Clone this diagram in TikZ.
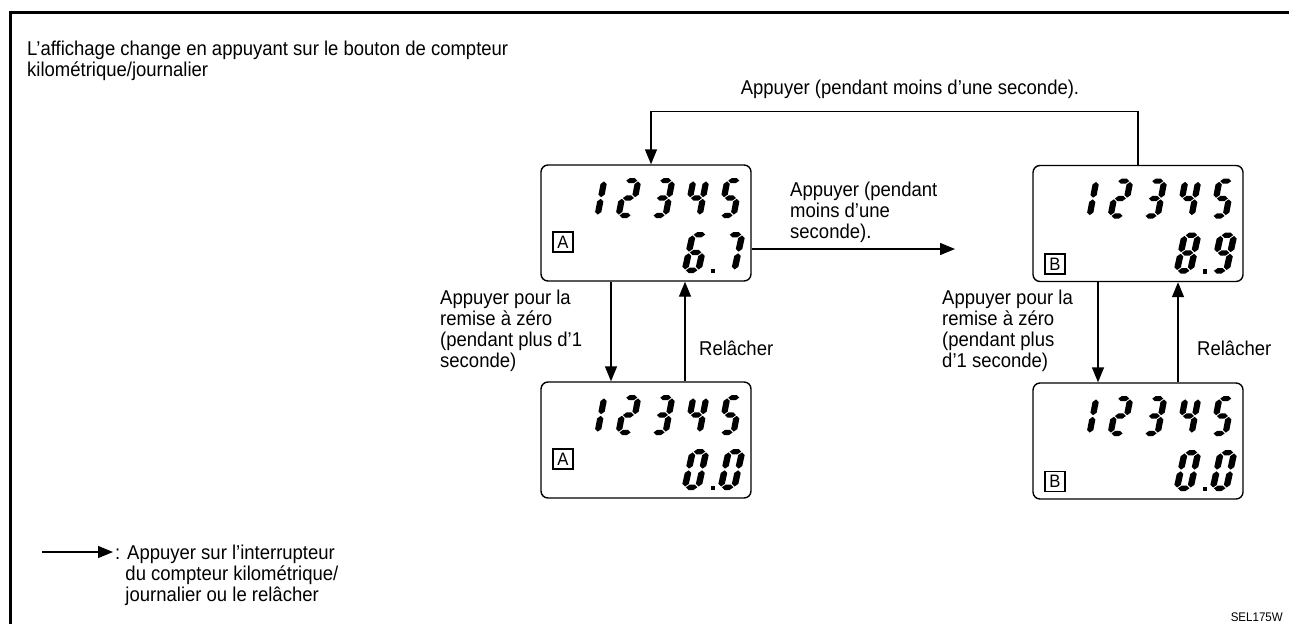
\documentclass[tikz,border=0pt]{standalone}
\usepackage{fontspec}
\setmainfont{Liberation Sans}[FakeStretch=0.925]
\usetikzlibrary{arrows.meta}
% seven-segment polygons, local units: width 16, height 40, y up
\def\sega{\fill (3.4,37.4)--(6,40)--(10,40)--(12.6,37.4)--(10,34.8)--(6,34.8)--cycle;}
\def\segg{\fill (3.4,20)--(6,22.6)--(10,22.6)--(12.6,20)--(10,17.4)--(6,17.4)--cycle;}
\def\segd{\fill (3.4,2.6)--(6,5.2)--(10,5.2)--(12.6,2.6)--(10,0)--(6,0)--cycle;}
\def\segf{\fill (2.6,36.6)--(5.2,34)--(5.2,23.4)--(2.6,20.8)--(0,23.4)--(0,34)--cycle;}
\def\segb{\fill (13.4,36.6)--(16,34)--(16,23.4)--(13.4,20.8)--(10.8,23.4)--(10.8,34)--cycle;}
\def\sege{\fill (2.6,19.2)--(5.2,16.6)--(5.2,6)--(2.6,3.4)--(0,6)--(0,16.6)--cycle;}
\def\segc{\fill (13.4,19.2)--(16,16.6)--(16,6)--(13.4,3.4)--(10.8,6)--(10.8,16.6)--cycle;}
\newcommand\digS[3]{\begin{scope}[shift={(#1,#2)},x=1pt,y=1pt,xscale=1.2,xslant=0.16]
  \foreach \s in {#3}{\csname seg\s\endcsname}\end{scope}}
\newcommand\digL[3]{\begin{scope}[shift={(#1,#2)},x=1pt,y=1pt,xscale=1.25,yscale=1.025,xslant=0.18]
  \foreach \s in {#3}{\csname seg\s\endcsname}\end{scope}}
\newcommand\toprow{\digS{40}{53}{b,c}\digS{74}{53}{a,b,g,e,d}\digS{108}{53}{a,b,g,c,d}%
  \digS{142}{53}{f,g,b,c}\digS{176}{53}{a,f,g,c,d}}
\newcommand\ldot{\fill (169.5,103.5) rectangle (174,108);}
\begin{document}
\begin{tikzpicture}[x=1pt,y=-1pt,
  txt/.style={inner sep=0pt, align=left, font=\fontsize{20}{21}\selectfont},
  lcd/.style={draw, line width=1.4pt, rounded corners=7pt, minimum width=210pt, minimum height=116pt, inner sep=0pt},
  tag/.style={draw, line width=1.2pt, minimum width=20pt, minimum height=20pt, inner sep=0pt, font=\fontsize{18}{18}\selectfont},
  conn/.style={line width=1.4pt, -{Triangle[length=15pt,width=12pt]}}]
\useasboundingbox (0,0) rectangle (1289,624);
\fill[white] (0,0) rectangle (1289,624);
% frame
\draw[line width=3pt] (1289,12.5) -- (10,12.5) -- (10,624);
% title
\node[txt, anchor=north west] (title) at (27,41) {L’affichage change en appuyant sur le bouton de compteur\\kilométrique/journalier};
% displays
\node[lcd] (A1) at (646,223) {};
\begin{scope}[shift={(541,165)}]
  \node[tag] (A1t) at (22,77) {A};
  \toprow \digL{140}{108}{a,f,g,e,c,d} \ldot \digL{176}{108}{a,b,c}
\end{scope}
\node[lcd] (A2) at (646,440) {};
\begin{scope}[shift={(541,382)}]
  \node[tag] (A2t) at (22,77) {A};
  \toprow \digL{140}{108}{a,b,c,d,e,f} \ldot \digL{176}{108}{a,b,c,d,e,f}
\end{scope}
\node[lcd] (B1) at (1138,223.5) {};
\begin{scope}[shift={(1033,165.5)}]
  \node[tag] (B1t) at (22,98.5) {B};
  \toprow \digL{140}{108}{a,b,c,d,e,f,g} \ldot \digL{176}{108}{a,b,c,d,f,g}
\end{scope}
\node[lcd] (B2) at (1138,441) {};
\begin{scope}[shift={(1033,383)}]
  \node[tag] (B2t) at (22,98.5) {B};
  \toprow \digL{140}{108}{a,b,c,d,e,f} \ldot \digL{176}{108}{a,b,c,d,e,f}
\end{scope}
% connectors
\draw[conn] (B1.north) -- ++(0,-53.5) -| ([xshift=5pt]A1.north);
\node[txt, anchor=base] (toplbl) at (910,94) {Appuyer (pendant moins d’une seconde).};
\coordinate (midend) at (955,249);
\draw[conn] (A1.east |- midend) -- (midend);
\node[txt, anchor=north west] (midlbl) at (790,182) {Appuyer (pendant\\moins d’une\\seconde).};
\draw[conn] ([xshift=-35pt]A1.south) -- ([xshift=-35pt]A2.north);
\draw[conn] ([xshift=39pt]A2.north) -- ([xshift=39pt]A1.south);
\draw[conn] ([xshift=-40pt]B1.south) -- ([xshift=-40pt]B2.north);
\draw[conn] ([xshift=40pt]B2.north) -- ([xshift=40pt]B1.south);
\node[txt, anchor=north west] (leftlbl) at (440,290) {Appuyer pour la\\remise à zéro\\(pendant plus d’1\\seconde)};
\node[txt, anchor=west] (rel1) at (699,348) {Relâcher};
\node[txt, anchor=north west] (rightlbl) at (942,290) {Appuyer pour la\\remise à zéro\\(pendant plus\\d’1 seconde)};
\node[txt, anchor=west] (rel2) at (1197,348) {Relâcher};
% legend
\coordinate (lgA) at (42,552);
\coordinate (lgB) at (113,552);
\draw[conn] (lgA) -- (lgB);
\node[txt, anchor=north west] (legend) at (115,545) {: Appuyer sur l’interrupteur\\\hphantom{:\ }du compteur kilométrique/\\\hphantom{:\ }journalier ou le relâcher};
\node[inner sep=0pt, anchor=east, font=\fontsize{12.5}{12.5}\selectfont] (code) at (1283,617) {SEL175W};
\end{tikzpicture}
\end{document}
